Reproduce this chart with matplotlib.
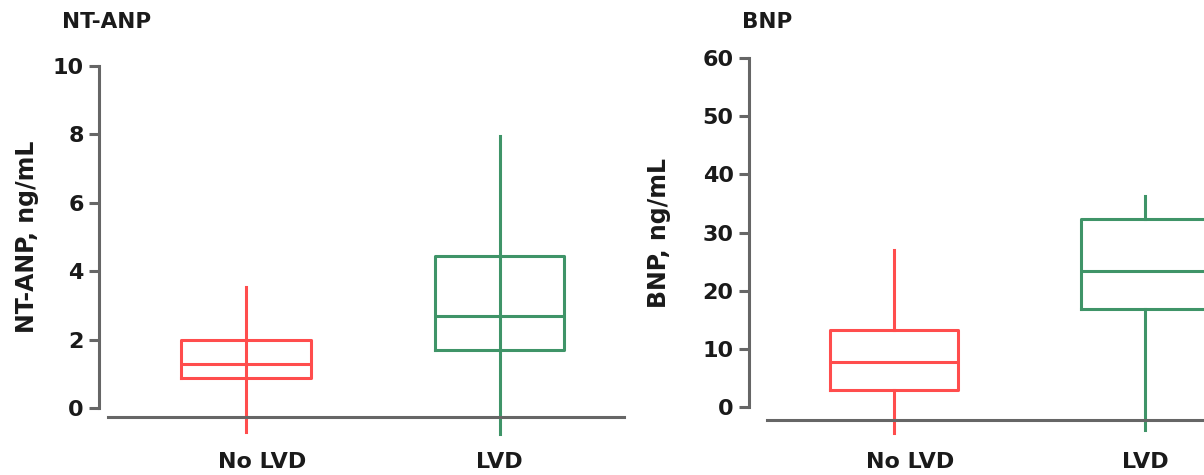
import matplotlib
matplotlib.use('Agg')
import matplotlib.pyplot as plt
import matplotlib.transforms as mtransforms

categories = ['No LVD', 'LVD']

ntanp_min = [-0.7, -0.75]
ntanp_q1 = [0.88, 1.70]
ntanp_med = [1.29, 2.69]
ntanp_q3 = [1.99, 4.45]
ntanp_max = [3.55, 7.95]
ntanp_ticks = [0, 2, 4, 6, 8, 10]

bnp_min = [-4.5, -4.0]
bnp_q1 = [2.9, 16.8]
bnp_med = [7.8, 23.3]
bnp_q3 = [13.2, 32.3]
bnp_max = [27.0, 36.2]
bnp_ticks = [0, 10, 20, 30, 40, 50, 60]

colors = ['#ff4d4d', '#3f9468']
spine_color = '#666666'
text_color = '#1a1a1a'

plt.rcParams['font.family'] = ['DejaVu Sans']
plt.rcParams['font.weight'] = 'bold'

fig = plt.figure(figsize=(12.04, 4.75), dpi=100)


def panel(rect, mins, q1s, meds, q3s, maxs, ticks, ylim, xline_y, xbounds,
          ylabel, label_x, title, title_x, through):
    ax = fig.add_axes(rect)
    pos = list(range(len(categories)))
    for i in pos:
        st = dict(med=meds[i], q1=q1s[i], q3=q3s[i],
                  whislo=mins[i], whishi=maxs[i], fliers=[])
        ax.bxp([st], positions=[i], widths=0.51, showcaps=False,
               showfliers=False, patch_artist=False,
               boxprops=dict(color=colors[i], linewidth=2.2),
               medianprops=dict(color=colors[i], linewidth=2.2),
               whiskerprops=dict(color=colors[i], linewidth=2.2),
               manage_ticks=False)
        if through:
            ax.vlines(i, q1s[i], q3s[i], color=colors[i], linewidth=2.2)
    ax.set_xlim(-0.58, 1.49)
    ax.set_ylim(*ylim)
    ax.set_yticks(ticks)
    ax.set_yticklabels([str(t) for t in ticks])
    ax.set_xticks([])
    for s in ['top', 'right']:
        ax.spines[s].set_visible(False)
    ax.spines['left'].set_bounds(ticks[0], ticks[-1])
    ax.spines['left'].set_color(spine_color)
    ax.spines['left'].set_linewidth(2.2)
    ax.spines['bottom'].set_position(('data', xline_y))
    ax.spines['bottom'].set_bounds(*xbounds)
    ax.spines['bottom'].set_color(spine_color)
    ax.spines['bottom'].set_linewidth(2.2)
    ax.tick_params(axis='y', length=7, width=2.2, color=spine_color, pad=4,
                   labelsize=16, labelcolor=text_color)
    for lab in ax.get_yticklabels():
        lab.set_fontweight('bold')
    trans = ax.get_xaxis_transform()
    for i, c in enumerate(categories):
        off = mtransforms.ScaledTranslation(0.16 if i == 0 else 0, -0.23,
                                            fig.dpi_scale_trans)
        ax.text(i, 0, c, transform=trans + off, ha='center', va='center',
                fontsize=16, fontweight='bold', color=text_color)
    ax.set_ylabel(ylabel, fontsize=17, fontweight='bold', color=text_color)
    frac = (((ticks[0] + ticks[-1]) / 2) - ylim[0]) / (ylim[1] - ylim[0])
    ax.yaxis.set_label_coords(label_x, frac)
    fig.text(title_x, 0.954, title, fontsize=15.5, fontweight='bold',
             color=text_color, ha='left', va='center')
    return ax


panel([0.0822, 0.0762, 0.436, 0.7849], ntanp_min, ntanp_q1, ntanp_med,
      ntanp_q3, ntanp_max, ntanp_ticks, (-0.9, 10), -0.26, (-0.545, 1.49),
      'NT-ANP, ng/mL', -0.114, 'NT-ANP', 0.0515, True)

panel([0.6221, 0.0758, 0.431, 0.8021], bnp_min, bnp_q1, bnp_med,
      bnp_q3, bnp_max, bnp_ticks, (-5.5, 60), -2.2, (-0.51, 1.49),
      'BNP, ng/mL', -0.150, 'BNP', 0.616, False)

fig.savefig('out.png', dpi=100)
